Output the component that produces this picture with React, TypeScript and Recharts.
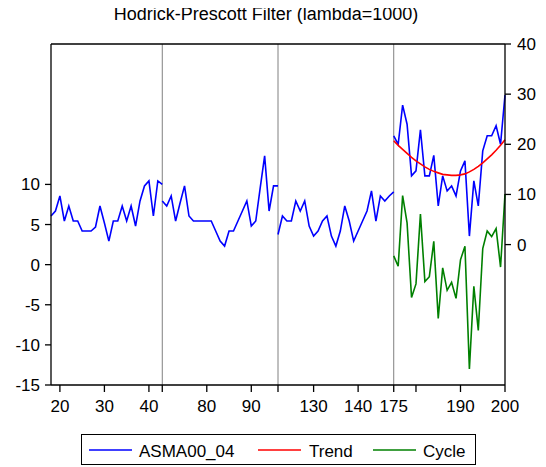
import React from 'react';
import { LineChart, Line, XAxis, YAxis, ReferenceLine, Legend } from 'recharts';

const title = 'Hodrick-Prescott Filter (lambda=1000)';
const seriesNames = ['ASMA00_04', 'Trend', 'Cycle'];
const seriesColors = ['#0000ff', '#ff0000', '#008000'];

// cross-section segments (observation ids start, values)
const seg1Start = 18;
const asma1 = [5.7, 6.7, 9.7, 4.7, 7.7, 4.7, 4.7, 2.7, 2.7, 2.7, 3.5, 7.7, 4.3, 0.7, 4.7, 4.7, 7.7, 4.7, 7.7, 3.7, 8.7, 11.7, 12.7, 5.7, 12.7, 12.0];
const seg2Start = 70;
const asma2 = [8.7, 7.7, 9.7, 4.7, 8.3, 11.7, 5.7, 4.7, 4.7, 4.7, 4.7, 4.7, 2.7, 0.7, -0.3, 2.7, 2.7, 4.7, 6.7, 8.7, 3.7, 4.7, 11.3, 17.7, 6.7, 11.7, 11.7];
const seg3Start = 122;
const asma3 = [2.0, 5.7, 4.7, 4.7, 8.7, 6.7, 8.7, 3.7, 1.7, 2.7, 4.7, 5.7, 1.7, -0.3, 2.7, 7.7, 4.7, 0.7, 2.7, 4.7, 6.7, 10.7, 4.7, 9.7, 8.7, 9.7, 10.5];
const seg4Start = 175;
const asma4 = [21.7, 20.0, 27.8, 24.0, 13.7, 14.7, 22.9, 13.7, 13.7, 17.8, 7.7, 13.7, 10.7, 11.7, 9.7, 14.7, 16.7, 1.7, 12.7, 7.7, 18.7, 21.7, 21.7, 23.7, 20.0, 29.8];
const trend4 = [20.7, 19.8, 19.0, 18.2, 17.4, 16.7, 16.1, 15.5, 15.0, 14.6, 14.3, 14.0, 13.9, 13.8, 13.8, 13.9, 14.1, 14.5, 15.0, 15.6, 16.3, 17.1, 17.9, 18.8, 19.8, 20.9];
const cycle4 = [1.1, -0.2, 8.6, 5.2, -4.1, -2.4, 6.3, -2.1, -1.5, 2.9, -6.7, -0.4, -3.2, -2.2, -4.2, 0.6, 2.3, -13.0, -2.7, -8.2, 2.0, 4.2, 3.5, 4.5, -0.3, 8.8];

// x-axis ticks (observation ids) and their labels
const xTickObs = [20, 30, 40, 43, 80, 90, 96, 130, 140, 175, 180, 190, 200];
const xTickLabels = ['20', '30', '40', '', '80', '90', '', '130', '140', '175', '', '190', '200'];
const leftTicks = [-15, -10, -5, 0, 5, 10];
const rightTicks = [0, 10, 20, 30, 40];

const segments = [
  { start: seg1Start, asma: asma1, trend: null as number[] | null, cycle: null as number[] | null },
  { start: seg2Start, asma: asma2, trend: null, cycle: null },
  { start: seg3Start, asma: asma3, trend: null, cycle: null },
  { start: seg4Start, asma: asma4, trend: trend4, cycle: cycle4 },
];

type Row = { pos: number; obs: number | null; asma: number | null; trend: number | null; cycle: number | null };
const rows: Row[] = [];
const dividers: number[] = [];
const obsToPos = new Map<number, number>();
let offset = 0;
segments.forEach((s, si) => {
  if (si > 0) {
    dividers.push(offset);
    rows.push({ pos: offset, obs: null, asma: null, trend: null, cycle: null });
  }
  s.asma.forEach((v, i) => {
    const obs = s.start + i;
    if (!obsToPos.has(obs)) obsToPos.set(obs, offset + i);
    rows.push({
      pos: offset + i,
      obs,
      asma: v,
      trend: s.trend ? s.trend[i] : null,
      cycle: s.cycle ? s.cycle[i] : null,
    });
  });
  offset += s.asma.length - 1;
});
const maxPos = offset;
const xTickPos = xTickObs.map((o) => obsToPos.get(o) as number);
const posLabel = new Map<number, string>();
xTickPos.forEach((p, i) => posLabel.set(p, xTickLabels[i]));

const FONT = '"Liberation Sans", Arial, Helvetica, sans-serif';

const legendItems = [
  { line: 8, text: 58 },
  { line: 177, text: 228 },
  { line: 292, text: 342 },
];

const renderLegend = () => (
  <div
    style={{
      position: 'relative',
      width: 395,
      height: 31,
      boxSizing: 'border-box',
      border: '1px solid #000',
      background: '#fff',
      fontFamily: FONT,
      fontSize: 17,
      color: '#000',
    }}
  >
    {seriesNames.map((n, i) => (
      <React.Fragment key={n}>
        <svg
          width={43}
          height={4}
          style={{ position: 'absolute', left: legendItems[i].line - 1, top: 13, overflow: 'visible' }}
        >
          <line x1={0} y1={2} x2={43} y2={2} stroke={seriesColors[i]} strokeWidth={1.6} />
        </svg>
        <span
          style={{
            position: 'absolute',
            left: legendItems[i].text - 1,
            top: 8,
            lineHeight: '17px',
            whiteSpace: 'nowrap',
          }}
        >
          {n}
        </span>
      </React.Fragment>
    ))}
  </div>
);

export default function App() {
  return (
    <div style={{ position: 'relative', width: 538, height: 459, fontFamily: FONT, background: '#fff' }}>
      <div
        style={{
          position: 'absolute',
          left: 0,
          top: -4,
          width: 516,
          textAlign: 'center',
          fontSize: 18,
          lineHeight: '20px',
          color: '#000',
          whiteSpace: 'nowrap',
        }}
      >
        {title}
      </div>
      <LineChart width={538} height={459} data={rows} margin={{ top: 36, right: 0, bottom: 42, left: 0 }}>
        <XAxis
          dataKey="pos"
          type="number"
          domain={[0, maxPos]}
          ticks={xTickPos}
          interval={0}
          tickFormatter={(v: number) => posLabel.get(v) ?? ''}
          height={40}
          tickSize={7}
          tickMargin={8}
          axisLine={{ stroke: '#000', strokeWidth: 1.3 }}
          tickLine={{ stroke: '#000', strokeWidth: 1.3 }}
          tick={{ fontSize: 17, fill: '#000', fontFamily: FONT }}
        />
        <YAxis
          yAxisId="left"
          orientation="left"
          type="number"
          domain={[-15, 27.5]}
          ticks={leftTicks}
          interval={0}
          width={43}
          tickSize={6}
          tickMargin={5}
          axisLine={{ stroke: '#000', strokeWidth: 1.3 }}
          tickLine={{ stroke: '#000', strokeWidth: 1.3 }}
          tick={{ fontSize: 17, fill: '#000', fontFamily: FONT }}
        />
        <YAxis
          yAxisId="right"
          orientation="right"
          type="number"
          domain={[-28, 40]}
          ticks={rightTicks}
          interval={0}
          width={41}
          tickSize={6}
          tickMargin={6}
          axisLine={{ stroke: '#000', strokeWidth: 1.3 }}
          tickLine={{ stroke: '#000', strokeWidth: 1.3 }}
          tick={{ fontSize: 17, fill: '#000', fontFamily: FONT }}
        />
        {dividers.map((d) => (
          <ReferenceLine key={d} x={d} yAxisId="left" stroke="#808080" strokeWidth={1} />
        ))}
        <ReferenceLine y={27.5} yAxisId="left" stroke="#000" strokeWidth={1.5} />
        <Line
          yAxisId="right"
          dataKey="asma"
          name={seriesNames[0]}
          stroke={seriesColors[0]}
          strokeWidth={1.6}
          dot={false}
          activeDot={false}
          isAnimationActive={false}
          connectNulls={false}
        />
        <Line
          yAxisId="right"
          dataKey="trend"
          name={seriesNames[1]}
          stroke={seriesColors[1]}
          strokeWidth={1.6}
          dot={false}
          activeDot={false}
          isAnimationActive={false}
          connectNulls={false}
        />
        <Line
          yAxisId="left"
          dataKey="cycle"
          name={seriesNames[2]}
          stroke={seriesColors[2]}
          strokeWidth={1.6}
          dot={false}
          activeDot={false}
          isAnimationActive={false}
          connectNulls={false}
        />
        <Legend
          layout="horizontal"
          verticalAlign="middle"
          align="center"
          content={renderLegend}
          wrapperStyle={{ left: 73, top: 426, width: 395, height: 31, bottom: 'auto', right: 'auto' }}
        />
      </LineChart>
    </div>
  );
}
